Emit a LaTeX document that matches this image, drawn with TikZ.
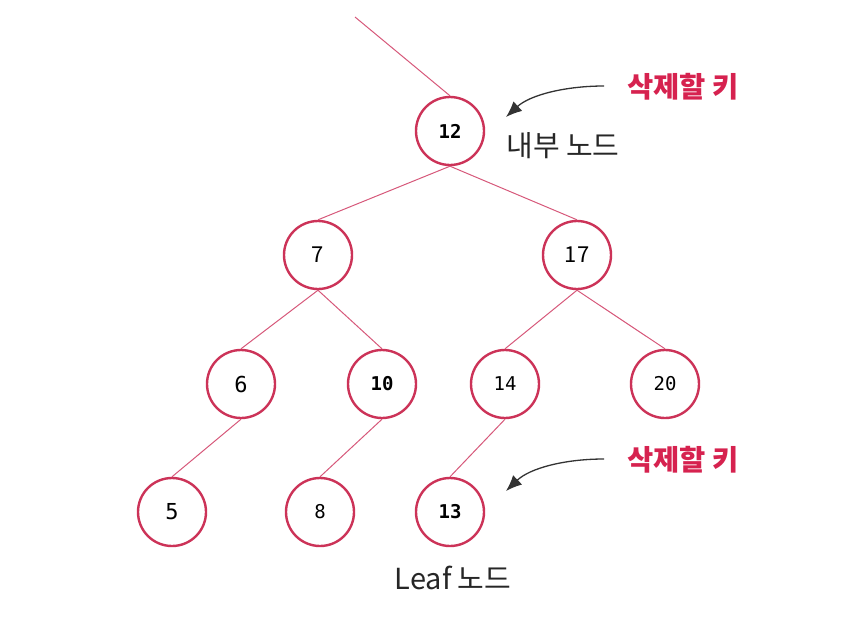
\documentclass[tikz,border=0pt]{standalone}
\usepackage{fontspec}
\setmainfont{Noto Sans CJK KR}
\newfontfamily\kr{Noto Sans CJK KR}
\newfontfamily\mono{DejaVu Sans Mono}
\usetikzlibrary{arrows.meta}
\definecolor{nodered}{HTML}{CC3358}
\definecolor{edgered}{HTML}{D6587A}
\definecolor{keyred}{HTML}{D6224F}
\tikzset{
  keynode/.style={circle, draw=nodered, line width=2.4pt, minimum size=68pt, inner sep=0pt, fill=white, font=\mono\fontsize{19}{22}\selectfont},
  bnum/.style={font=\mono\bfseries\fontsize{19}{22}\selectfont},
  snum/.style={font=\kr\fontsize{22}{26}\selectfont},
  edge/.style={draw=edgered, line width=1pt},
  note/.style={font=\kr\fontsize{29}{34}\selectfont, text=black!85},
  keylabel/.style={font=\kr\bfseries\fontsize{28.5}{33}\selectfont, text=keyred},
  pointer/.style={draw=black!80, line width=1.3pt, -{Latex[length=16pt,width=13pt]}}
}
\begin{document}
\begin{tikzpicture}[x=1pt,y=-1pt]
\useasboundingbox (0,0) rectangle (859,619);
\coordinate (top) at (355,17);
\node[keynode,bnum] (n12) at (450,131) {12};
\node[keynode,snum] (n7) at (318,255) {7};
\node[keynode,snum] (n17) at (577,255) {17};
\node[keynode] (n6) at (241,384) {\fontsize{22}{26}\selectfont 6};
\node[keynode,bnum] (n10) at (382,384) {10};
\node[keynode] (n14) at (505,384) {14};
\node[keynode] (n20) at (665,384) {20};
\node[keynode] (n5) at (172,512) {\fontsize{22}{26}\selectfont 5};
\node[keynode] (n8) at (320,512) {8};
\node[keynode,bnum] (n13) at (450,512) {13};
\path[edge] (top) -- (n12.north);
\path[edge] (n12.south) -- (n7.north);
\path[edge] (n12.south) -- (n17.north);
\path[edge] (n7.south) -- (n6.north);
\path[edge] (n7.south) -- (n10.north);
\path[edge] (n17.south) -- (n14.north);
\path[edge] (n17.south) -- (n20.north);
\path[edge] (n6.south) -- (n5.north);
\path[edge] (n10.south) -- (n8.north);
\path[edge] (n14.south) -- (n13.north);
\node[note] (inner) at (563,146) {내부 노드};
\node[note] (leaf) at (453,578) {Leaf 노드};
\node[keylabel] (k1) at (683,87) {삭제할 키};
\node[keylabel] (k2) at (683,460) {삭제할 키};
\coordinate (a1) at (506,117);
\coordinate (a2) at (506,491);
\draw[pointer] (604,86) .. controls (565,86) and (530,95) .. (a1);
\draw[pointer] (604,459) .. controls (565,459) and (530,468) .. (a2);
\end{tikzpicture}
\end{document}
